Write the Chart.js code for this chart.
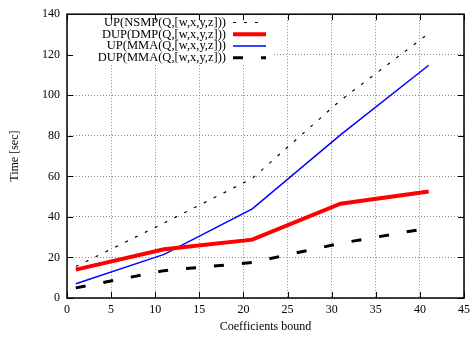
<!DOCTYPE html>
<html>
<head>
<meta charset="utf-8">
<script src="https://cdn.jsdelivr.net/npm/chart.js@4.4.1/dist/chart.umd.min.js"></script>
<style>
  html, body { margin: 0; padding: 0; background: #fff; }
  canvas { display: block; }
</style>
</head>
<body>
<canvas id="grafico-tempo" width="475" height="338"></canvas>
<script>
const bounds = [1, 11, 21, 31, 41];
const upNsmp = [15.5, 37, 59, 97.5, 130.5];
const dupDmp = [14, 24, 28.8, 46.5, 52.5];
const upMma = [7, 21.5, 44, 80.5, 114.8];
const dupMma = [5, 13.5, 17.5, 27, 34.5];
const xTicks = [0, 5, 10, 15, 20, 25, 30, 35, 40, 45];
const yTicks = [0, 20, 40, 60, 80, 100, 120, 140];
const seriesNames = ['UP(NSMP(Q,[w,x,y,z]))', 'DUP(DMP(Q,[w,x,y,z]))', 'UP(MMA(Q,[w,x,y,z]))', 'DUP(MMA(Q,[w,x,y,z]))'];

const FONTE = '"Liberation Serif", "DejaVu Serif", serif';

function pontos(valores) {
  return bounds.map(function (b, i) { return { x: b, y: valores[i] }; });
}

const series = [
  { label: seriesNames[0], data: pontos(upNsmp), borderColor: '#000000', borderWidth: 1.2, borderDash: [3, 8] },
  { label: seriesNames[1], data: pontos(dupDmp), borderColor: '#ff0000', borderWidth: 4, borderDash: [] },
  { label: seriesNames[2], data: pontos(upMma), borderColor: '#0000ff', borderWidth: 1.5, borderDash: [] },
  { label: seriesNames[3], data: pontos(dupMma), borderColor: '#000000', borderWidth: 3, borderDash: [10, 18] }
];

// caixa branca da legenda, por cima da grade
const caixaLegenda = {
  id: 'caixaLegenda',
  beforeDatasetsDraw: function (chart) {
    const a = chart.chartArea;
    const ctx = chart.ctx;
    ctx.save();
    ctx.fillStyle = '#ffffff';
    ctx.fillRect(a.left + 1, a.top + 1, 272 - a.left, 64 - a.top);
    ctx.restore();
  }
};

// moldura, marcas internas e legenda no estilo gnuplot
const moldura = {
  id: 'moldura',
  afterDraw: function (chart) {
    const a = chart.chartArea;
    const ctx = chart.ctx;
    const sx = chart.scales.x;
    const sy = chart.scales.y;
    const tam = 6;
    ctx.save();
    ctx.strokeStyle = '#000000';
    ctx.lineWidth = 1;
    ctx.setLineDash([]);
    ctx.beginPath();
    xTicks.forEach(function (v) {
      const px = Math.round(sx.getPixelForValue(v)) + 0.5;
      ctx.moveTo(px, a.bottom); ctx.lineTo(px, a.bottom - tam);
      ctx.moveTo(px, a.top); ctx.lineTo(px, a.top + tam);
    });
    yTicks.forEach(function (v) {
      const py = Math.round(sy.getPixelForValue(v)) + 0.5;
      ctx.moveTo(a.left, py); ctx.lineTo(a.left + tam, py);
      ctx.moveTo(a.right, py); ctx.lineTo(a.right - tam, py);
    });
    ctx.stroke();

    ctx.lineWidth = 1.5;
    ctx.strokeRect(a.left, a.top, a.right - a.left, a.bottom - a.top);

    ctx.font = '12.5px ' + FONTE;
    ctx.fillStyle = '#000000';
    ctx.textAlign = 'right';
    ctx.textBaseline = 'middle';
    series.forEach(function (s, i) {
      const y = 22.5 + i * 11.75;
      ctx.fillText(s.label, 226, y);
      ctx.beginPath();
      ctx.strokeStyle = s.borderColor;
      ctx.lineWidth = s.borderWidth;
      ctx.setLineDash(s.borderDash);
      ctx.moveTo(233, y);
      ctx.lineTo(266, y);
      ctx.stroke();
    });
    ctx.restore();
  }
};

new Chart(document.getElementById('grafico-tempo'), {
  type: 'line',
  data: {
    datasets: series.map(function (s) {
      return {
        label: s.label,
        data: s.data,
        borderColor: s.borderColor,
        borderWidth: s.borderWidth,
        borderDash: s.borderDash,
        pointRadius: 0,
        tension: 0,
        fill: false
      };
    })
  },
  options: {
    responsive: false,
    animation: false,
    devicePixelRatio: 1,
    layout: { padding: { top: 13, right: 10, left: 0, bottom: 0 } },
    plugins: {
      legend: { display: false },
      tooltip: { enabled: false }
    },
    scales: {
      x: {
        type: 'linear',
        min: 0,
        max: 45,
        afterBuildTicks: function (scale) { scale.ticks = xTicks.map(function (v) { return { value: v }; }); },
        afterFit: function (scale) { scale.height = 40; },
        ticks: { color: '#000', font: { family: FONTE, size: 12 }, padding: 5, maxRotation: 0 },
        grid: { color: '#8a8a8a', lineWidth: 1, drawTicks: false },
        border: { display: false, dash: [1, 2] },
        title: { display: true, text: 'Coefficients bound', color: '#000', font: { family: FONTE, size: 12 }, padding: { top: 0, bottom: 4 } }
      },
      y: {
        type: 'linear',
        min: 0,
        max: 140,
        afterBuildTicks: function (scale) { scale.ticks = yTicks.map(function (v) { return { value: v }; }); },
        afterFit: function (scale) { scale.width = 67; },
        ticks: { color: '#000', font: { family: FONTE, size: 12 }, padding: 7 },
        grid: { color: '#8a8a8a', lineWidth: 1, drawTicks: false },
        border: { display: false, dash: [1, 2] },
        title: { display: true, text: 'Time [sec]', color: '#000', font: { family: FONTE, size: 12 }, padding: { top: 8, bottom: 0 } }
      }
    }
  },
  plugins: [caixaLegenda, moldura]
});
</script>
</body>
</html>
